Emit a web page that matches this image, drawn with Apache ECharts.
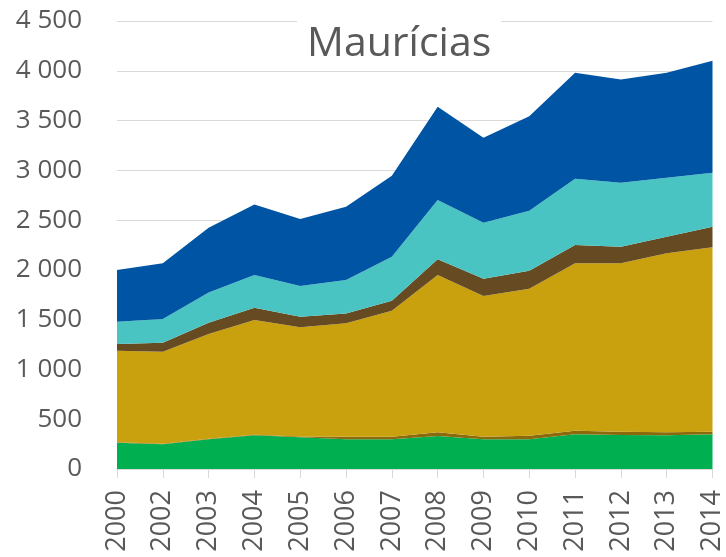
<!DOCTYPE html>
<html>
<head>
<meta charset="utf-8">
<script src="https://cdn.jsdelivr.net/npm/echarts@6/dist/echarts.min.js"></script>
<style>
  html, body { margin: 0; padding: 0; background: #fff; }
  #chart { width: 726px; height: 557px; }
</style>
</head>
<body>
<div id="chart"></div>
<script>
// categorias (não há 2001 no original)
const years = ['2000', '2002', '2003', '2004', '2005', '2006', '2007',
               '2008', '2009', '2010', '2011', '2012', '2013', '2014'];

// camadas empilhadas, de baixo para cima
const greenVals = [264, 248, 298, 338, 318, 298, 298, 331, 298, 298, 348, 342, 338, 348];
const oliveVals = [5, 5, 5, 5, 8, 27, 27, 37, 27, 37, 37, 33, 30, 27];
const goldVals  = [919, 925, 1053, 1153, 1097, 1138, 1265, 1580, 1412, 1476, 1681, 1691, 1798, 1852];
const brownVals = [67, 90, 113, 124, 106, 100, 100, 160, 174, 181, 183, 167, 167, 207];
const tealVals  = [224, 238, 305, 328, 309, 335, 442, 593, 562, 602, 666, 642, 592, 542];
const blueVals  = [521, 560, 649, 709, 672, 735, 813, 937, 854, 950, 1064, 1037, 1054, 1124];

const yMax = 4500;
const yStep = 500;

const layers = [
    { name: 'A', data: greenVals, color: '#00B050' },
    { name: 'B', data: oliveVals, color: '#8B6A0D' },
    { name: 'C', data: goldVals,  color: '#C9A00E' },
    { name: 'D', data: brownVals, color: '#664B22' },
    { name: 'E', data: tealVals,  color: '#4AC4C2' },
    { name: 'F', data: blueVals,  color: '#0054A4' }
];

const labelColor = '#595959';
const gridColor = '#D9D9D9';
const font = "'Open Sans', 'DejaVu Sans', sans-serif";

function fmtThousands(v) {
    return String(v).replace(/\B(?=(\d{3})+(?!\d))/g, ' ');
}

const chart = echarts.init(document.getElementById('chart'));

chart.setOption({
    animation: false,
    backgroundColor: '#fff',
    title: {
        text: 'Maurícias',
        left: 297,
        top: 16,
        padding: [8, 10, 6, 10],
        backgroundColor: '#fff',
        textStyle: {
            color: labelColor,
            fontFamily: font,
            fontSize: 41,
            fontWeight: 'normal'
        }
    },
    grid: {
        left: 117,
        right: 8,
        top: 21,
        bottom: 88,
        containLabel: false
    },
    xAxis: {
        type: 'category',
        data: years,
        boundaryGap: false,
        axisLine: { lineStyle: { color: gridColor, width: 1 } },
        axisTick: { show: true, length: 9, lineStyle: { color: gridColor } },
        axisLabel: {
            rotate: 90,
            margin: 21,
            color: labelColor,
            fontFamily: font,
            fontSize: 27,
            interval: 0
        },
        splitLine: { show: false }
    },
    yAxis: {
        type: 'value',
        min: 0,
        max: yMax,
        interval: yStep,
        axisLine: { show: false },
        axisTick: { show: false },
        axisLabel: {
            margin: 35,
            color: labelColor,
            fontFamily: font,
            fontSize: 26,
            formatter: fmtThousands
        },
        splitLine: { lineStyle: { color: gridColor, width: 1 } }
    },
    series: layers.map(l => ({
        name: l.name,
        type: 'line',
        stack: 'total',
        data: l.data,
        symbol: 'none',
        smooth: false,
        lineStyle: { width: 0 },
        areaStyle: { color: l.color, opacity: 1 },
        itemStyle: { color: l.color }
    }))
});
</script>
</body>
</html>
